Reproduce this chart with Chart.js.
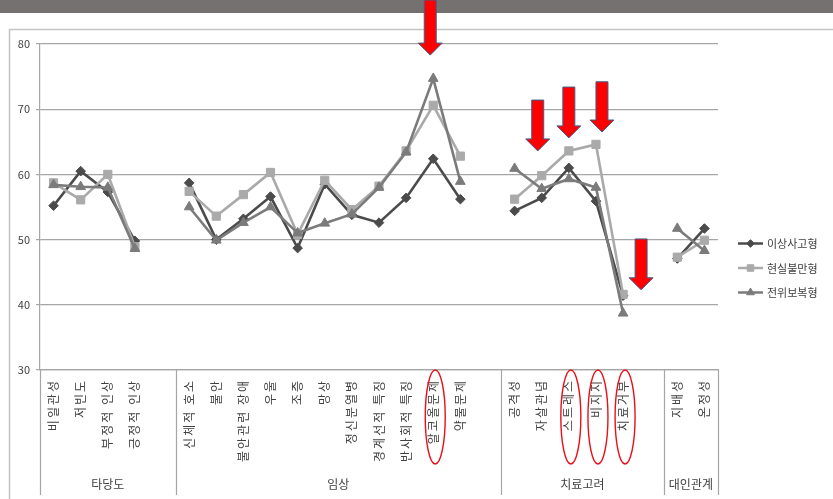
<!DOCTYPE html>
<html lang="ko">
<head>
<meta charset="utf-8">
<title>PAI 척도별 유형 비교</title>
<script src="https://cdn.jsdelivr.net/npm/chart.js@4.4.1/dist/chart.umd.min.js"></script>
<style>
  html, body { margin: 0; padding: 0; background: #ffffff; }
  #wrap { width: 833px; height: 499px; position: relative; }
</style>
</head>
<body>
<div id="wrap"><canvas id="c" width="833" height="499"></canvas></div>
<script>
// Scale names (blank entries separate the groups)
const categories = [
  '비일관성', '저빈도', '부정적 인상', '긍정적 인상', '',
  '신체적 호소', '불안', '불안관련 장애', '우울', '조증', '망상', '정신분열병',
  '경계선적 특징', '반사회적 특징', '알코올문제', '약물문제', '',
  '공격성', '자살관념', '스트레스', '비지지', '치료거부', '',
  '지배성', '온정성'
];

// Scale groups: name, first and last category index
const groupNames = ['타당도', '임상', '치료고려', '대인관계'];
const groupStart = [0, 5, 17, 23];
const groupEnd = [4, 16, 22, 24];

// T-scores per type
const seriesNames = ['이상사고형', '현실불만형', '전위보복형'];
const ideationType = [55.2, 60.5, 57.3, 49.8, null, 58.7, 50.0, 53.2, 56.6, 48.7, 58.5, 53.8, 52.6, 56.4, 62.4, 56.2, null, 54.4, 56.4, 61.0, 55.9, 41.4, null, 47.1, 51.7];
const discontentType = [58.7, 56.1, 60.0, 48.9, null, 57.4, 53.6, 56.9, 60.3, 50.8, 59.1, 54.6, 58.2, 63.6, 70.6, 62.8, null, 56.2, 59.8, 63.6, 64.6, 41.6, null, 47.3, 49.9];
const displacedType = [58.4, 58.1, 58.0, 48.6, null, 55.0, 49.9, 52.6, 55.0, 51.0, 52.5, 53.9, 58.0, 63.4, 74.7, 58.9, null, 60.9, 57.8, 59.3, 58.0, 38.7, null, 51.7, 48.3];

// Y axis range
const yMin = 30, yMax = 80, yStep = 10;

// Scales singled out in the x-axis labels
const circledLabels = ['알코올문제', '스트레스', '비지지', '치료거부'];
// Scales marked with a downward arrow
const arrowLabels = ['알코올문제', '자살관념', '스트레스', '비지지', '치료거부'];

const FONT = '"Noto Sans CJK KR", "Noto Sans", sans-serif';
const TEXT = '#404040';
const GRID = '#a6a6a6';

const colors = ['#4b4b4b', '#aaaaaa', '#7b7b7b'];
const markers = ['rectRot', 'rect', 'triangle'];
const markerSize = [4.8, 5.8, 5.6];

function drawArrow(ctx, x, yTop, yTip) {
  const shaft = 6, head = 12, headLen = 12;
  ctx.beginPath();
  ctx.moveTo(x - shaft, yTop);
  ctx.lineTo(x + shaft, yTop);
  ctx.lineTo(x + shaft, yTip - headLen);
  ctx.lineTo(x + head, yTip - headLen);
  ctx.lineTo(x, yTip);
  ctx.lineTo(x - head, yTip - headLen);
  ctx.lineTo(x - shaft, yTip - headLen);
  ctx.closePath();
  ctx.fillStyle = '#ff0000';
  ctx.fill();
  ctx.strokeStyle = '#3c5f8c';
  ctx.lineWidth = 1;
  ctx.stroke();
}

const decorations = {
  id: 'decorations',
  beforeDraw(chart) {
    const ctx = chart.ctx;
    ctx.save();
    ctx.fillStyle = '#ffffff';
    ctx.fillRect(0, 0, chart.width, chart.height);
    // slide header band
    ctx.fillStyle = '#767171';
    ctx.fillRect(0, 0, chart.width, 13);
    // chart frame
    ctx.strokeStyle = '#c4c4c4';
    ctx.lineWidth = 1.5;
    ctx.beginPath();
    ctx.moveTo(9.5, chart.height);
    ctx.lineTo(9.5, 29.5);
    ctx.lineTo(chart.width, 29.5);
    ctx.stroke();
    ctx.restore();
  },
  // the x tick labels are drawn after the datasets (ticks.z = 1); give them wider letter spacing
  afterDatasetsDraw(chart) {
    chart.ctx.letterSpacing = '2px';
  },
  afterDraw(chart) {
    const ctx = chart.ctx;
    ctx.letterSpacing = '0px';
    const xs = chart.scales.x, ys = chart.scales.y;
    const area = chart.chartArea;
    const bottom = 495;
    ctx.save();

    // group dividers below the axis
    ctx.strokeStyle = GRID;
    ctx.lineWidth = 1.2;
    const half = (xs.getPixelForValue(1) - xs.getPixelForValue(0)) / 2;
    const edges = [area.left];
    for (let g = 0; g < groupNames.length; g++) {
      edges.push(g === groupNames.length - 1 ? area.right : xs.getPixelForValue(groupEnd[g]) + half);
    }
    edges.forEach(x => {
      ctx.beginPath();
      ctx.moveTo(Math.round(x) + 0.5, area.bottom);
      ctx.lineTo(Math.round(x) + 0.5, bottom);
      ctx.stroke();
    });

    // group names
    ctx.fillStyle = TEXT;
    ctx.font = '12px ' + FONT;
    ctx.textAlign = 'center';
    ctx.textBaseline = 'middle';
    for (let g = 0; g < groupNames.length; g++) {
      const l = xs.getPixelForValue(groupStart[g]) - half;
      const r = xs.getPixelForValue(groupEnd[g]) + half;
      ctx.fillText(groupNames[g], (l + r) / 2, 484);
    }

    // red ellipses around highlighted labels
    ctx.strokeStyle = '#e8101a';
    ctx.lineWidth = 1.4;
    circledLabels.forEach(name => {
      const i = categories.indexOf(name);
      const x = xs.getPixelForValue(i) + 2;
      ctx.beginPath();
      ctx.ellipse(x, 417, 10, 47, 0, 0, Math.PI * 2);
      ctx.stroke();
    });

    // arrows: tip and tail given in axis units
    const arrowGeom = {
      '알코올문제': { dx: -3, tip: 78.3, top: null },
      '자살관념': { dx: -4, tip: 63.6, top: 71.4 },
      '스트레스': { dx: 0, tip: 65.6, top: 73.4 },
      '비지지': { dx: 6, tip: 66.5, top: 74.2 },
      '치료거부': { dx: 18, tip: 42.3, top: 50.1 }
    };
    arrowLabels.forEach(name => {
      const g = arrowGeom[name];
      const i = categories.indexOf(name);
      const x = xs.getPixelForValue(i) + g.dx;
      const yTop = g.top === null ? 0 : ys.getPixelForValue(g.top);
      drawArrow(ctx, x, yTop, ys.getPixelForValue(g.tip));
    });

    // legend
    ctx.font = '11px ' + FONT;
    ctx.textAlign = 'left';
    ctx.textBaseline = 'middle';
    chart.data.datasets.forEach((ds, k) => {
      const y = 243.5 + k * 24.5;
      ctx.strokeStyle = colors[k];
      ctx.lineWidth = 2.5;
      ctx.beginPath();
      ctx.moveTo(738, y);
      ctx.lineTo(763, y);
      ctx.stroke();
      ctx.fillStyle = colors[k];
      ctx.strokeStyle = colors[k];
      ctx.lineWidth = 1;
      Chart.helpers.drawPoint(ctx, { pointStyle: markers[k], radius: markerSize[k] * 0.8, rotation: 0, borderWidth: 1 }, 750.5, y);
      ctx.fillStyle = TEXT;
      ctx.fillText(ds.label, 767, y + 0.5);
    });

    ctx.restore();
  }
};

const series = [ideationType, discontentType, displacedType];

new Chart(document.getElementById('c'), {
  type: 'line',
  data: {
    labels: categories,
    datasets: series.map((vals, k) => ({
      label: seriesNames[k],
      data: vals,
      borderColor: colors[k],
      backgroundColor: colors[k],
      borderWidth: 2.6,
      pointStyle: markers[k],
      pointRadius: markerSize[k],
      pointBorderWidth: 1,
      pointBackgroundColor: colors[k],
      pointBorderColor: colors[k],
      tension: 0,
      spanGaps: false,
      order: 2 - k
    }))
  },
  options: {
    responsive: false,
    animation: false,
    devicePixelRatio: 1,
    layout: { padding: { top: 44, right: 115, left: 0, bottom: 0 } },
    plugins: {
      legend: { display: false },
      tooltip: { enabled: false }
    },
    scales: {
      x: {
        type: 'category',
        offset: true,
        grid: { display: false, drawTicks: false },
        border: { display: true, color: GRID, width: 1.2 },
        ticks: {
          z: 1,
          autoSkip: false,
          minRotation: 90,
          maxRotation: 90,
          padding: 9,
          color: TEXT,
          font: { family: FONT, size: 12 }
        },
        afterFit(scale) { scale.height = 129; }
      },
      y: {
        min: yMin,
        max: yMax,
        grid: { color: GRID, lineWidth: 1.2, tickLength: 4 },
        border: { display: true, color: GRID, width: 1.2 },
        ticks: {
          stepSize: yStep,
          padding: 6,
          color: TEXT,
          font: { family: FONT, size: 11 }
        },
        afterFit(scale) { scale.width = 40; }
      }
    }
  },
  plugins: [decorations]
});
</script>
</body>
</html>
